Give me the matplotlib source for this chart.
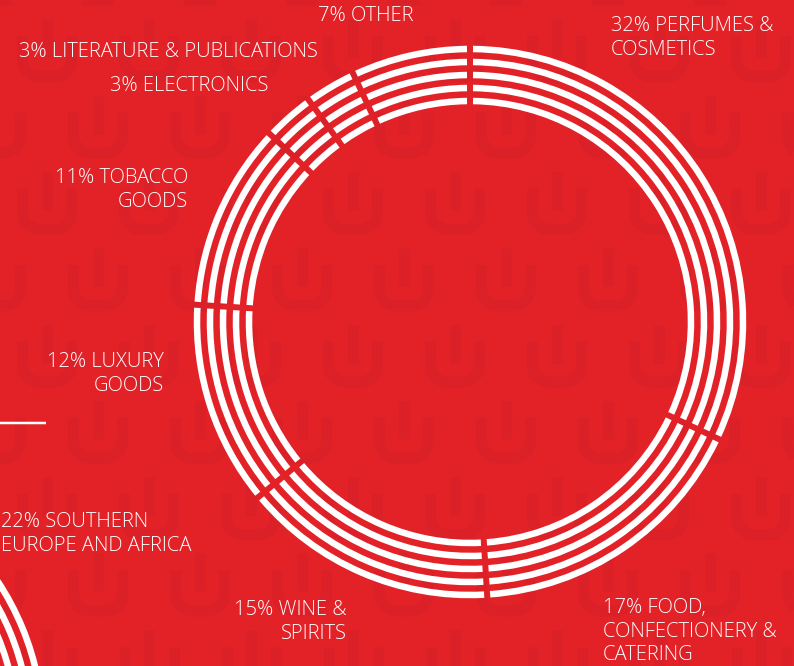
import numpy as np
import matplotlib.pyplot as plt
from matplotlib.patches import Wedge

W, H = 794, 666
BG = '#e32228'
MARK = '#db2027'
WHITE = '#ffffff'
PX = 0.72  # points per pixel at dpi 100

# sales split by product category, clockwise from 12 o'clock
categories = ['PERFUMES &\nCOSMETICS', 'FOOD,\nCONFECTIONERY &\nCATERING',
              'WINE &\nSPIRITS', 'LUXURY\nGOODS', 'TOBACCO\nGOODS',
              'ELECTRONICS', 'LITERATURE & PUBLICATIONS', 'OTHER']
shares = [32, 17, 15, 12, 11, 3, 3, 7]

# label placement: (x, first baseline, alignment)
label_pos = [(611, 31, 'left'), (603, 613, 'left'), (347, 615, 'right'),
             (164, 367, 'right'), (188, 183, 'right'), (268, 91, 'right'),
             (318, 57, 'right'), (318, 21, 'left')]

center = (470, 322)
ring_r = [273, 260, 247, 234, 221]
band = 6.5
gap = 6.0
line_step = 23.7

fig = plt.figure(figsize=(W / 100, H / 100), dpi=100)
fig.patch.set_facecolor(BG)
ax = fig.add_axes([0, 0, 1, 1])
ax.set_facecolor(BG)


def draw_logo(ax, cx, top):
    # U with a stem dropping into it
    ax.plot([cx, cx], [top, top + 38], color=MARK, lw=11 * PX,
            solid_capstyle='butt', zorder=1)
    hw, bot, rc = 24.5, top + 57.5, 17
    t = np.linspace(np.pi, np.pi / 2, 20)
    left = np.c_[cx - hw + rc + rc * np.cos(t), bot - rc + rc * np.sin(t)]
    t = np.linspace(np.pi / 2, 0, 20)
    right = np.c_[cx + hw - rc + rc * np.cos(t), bot - rc + rc * np.sin(t)]
    pts = np.vstack([[cx - hw, top + 17], left, right, [cx + hw, top + 17]])
    ax.plot(pts[:, 0], pts[:, 1], color=MARK, lw=11 * PX,
            solid_capstyle='butt', solid_joinstyle='round', zorder=1)


def label(ax, x, y, text, ha):
    for i, line in enumerate(text.split('\n')):
        ax.text(x, y + i * line_step, line, ha=ha, va='baseline',
                family='Open Sans', fontweight='light', fontsize=14.5,
                color=WHITE, zorder=4)


for i in range(10):
    top = -57 + 76.3 * i
    x0 = 98 if i % 2 == 0 else 47
    for k in range(-1, 9):
        draw_logo(ax, x0 + 102 * k, top)

# segmented rings
bounds = np.concatenate([[0], np.cumsum(shares)]) / sum(shares) * 360
for r in ring_r:
    half = np.degrees(gap / 2 / r)
    for a, b in zip(bounds[:-1], bounds[1:]):
        ax.add_patch(Wedge(center, r + band / 2, -90 + a + half, -90 + b - half,
                           width=band, facecolor=WHITE, edgecolor='none', zorder=3))

# next chart's rings peeking in at the bottom left
for r in ring_r:
    ax.add_patch(Wedge((-230, 732), r + band / 2, 0, 360, width=band,
                       facecolor=WHITE, edgecolor='none', zorder=3))

ax.plot([0, 46], [423, 423], color=WHITE, lw=2.5 * PX, solid_capstyle='butt', zorder=3)

for name, s, (x, y, ha) in zip(categories, shares, label_pos):
    label(ax, x, y, f'{s}% {name}', ha)

label(ax, 1, 527, '22% SOUTHERN\nEUROPE AND AFRICA', 'left')

ax.set_xlim(0, W)
ax.set_ylim(H, 0)
ax.axis('off')
fig.savefig('out.png', dpi=100, facecolor=BG)
